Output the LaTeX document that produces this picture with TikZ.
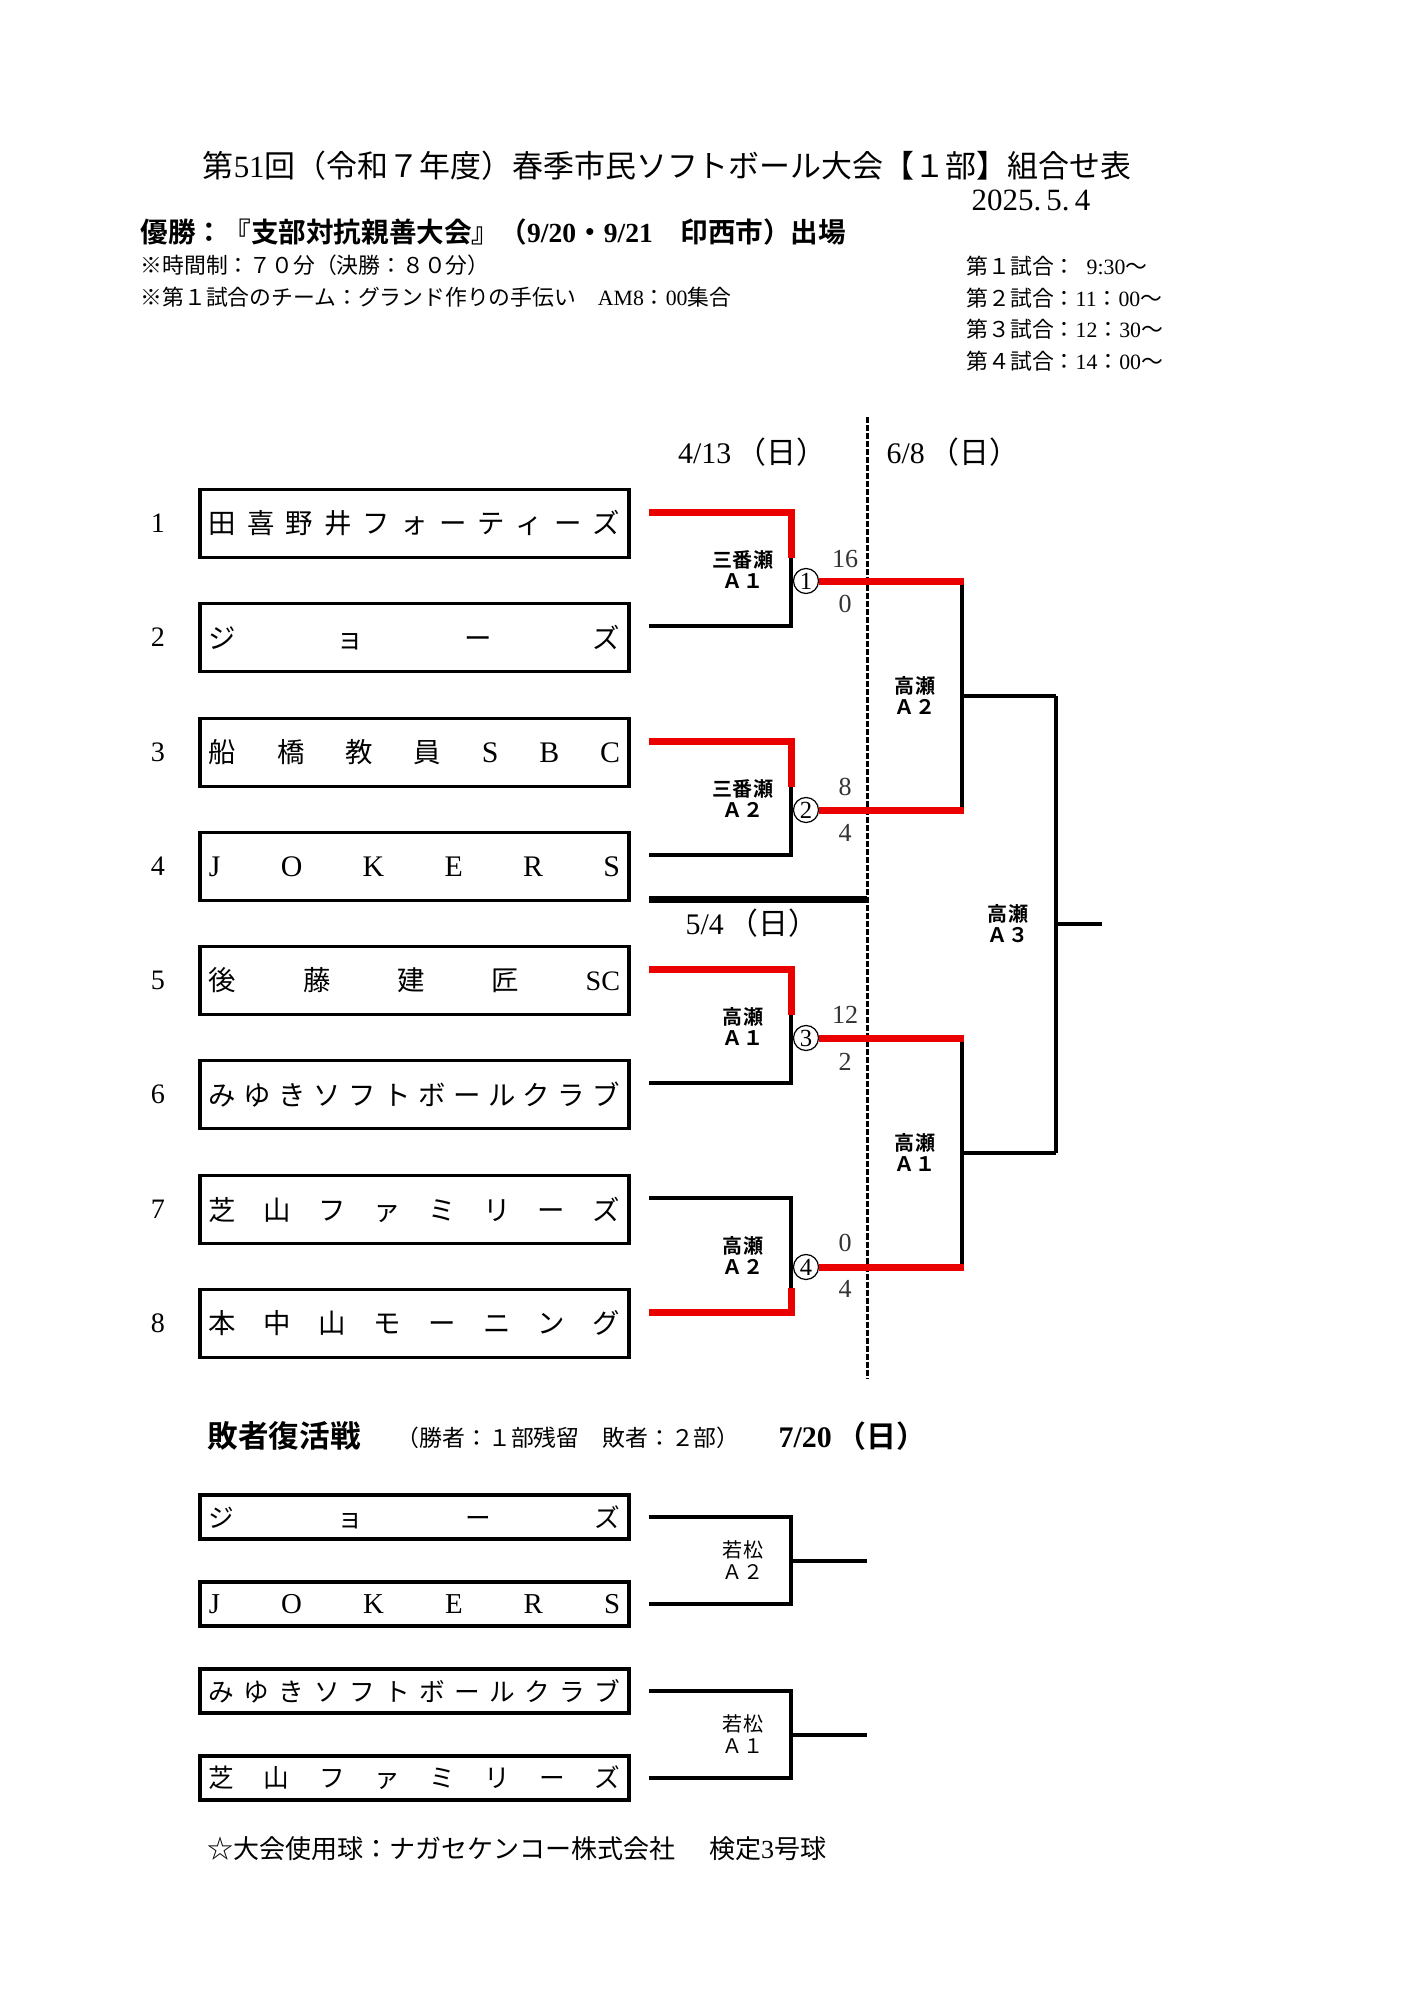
\documentclass[tikz,border=0pt]{standalone}
\usepackage{fontspec}
\setmainfont{Liberation Serif}
\newfontfamily\jp{Noto Sans CJK JP}[BoldFont={Noto Sans CJK JP Bold}]
\newcommand\fsz[2]{\fontsize{#1}{#2}\selectfont}
\definecolor{wred}{RGB}{235,0,0}
\tikzset{
  every node/.style={inner sep=0pt},
  teambox/.style={draw,line width=0.035cm,minimum width=4.29cm,minimum height=0.68cm},
  losebox/.style={teambox,minimum height=0.44cm},
  bk/.style={line width=0.04cm,line join=miter},
  rd/.style={line width=0.07cm,draw=wred,line join=miter},
  tnum/.style={font=\fsz{8pt}{9pt}},
  score/.style={font=\fsz{7.4pt}{8pt},text=black!80},
  mlabel/.style={font=\jp\bfseries\fsz{5.7pt}{6pt},align=center},
  llabel/.style={font=\jp\fsz{5.7pt}{6.2pt},align=center},
  circ/.style={circle,draw,line width=0.35pt,minimum size=0.25cm,font=\fsz{7pt}{7pt}},
  tname/.style={font=\jp\fsz{7.8pt}{9pt}},
  lname/.style={font=\jp\fsz{7.3pt}{9pt}},
  dtext/.style={font=\fsz{8.5pt}{9pt}},
}
\newcommand\spreadname[1]{\makebox[4.11cm][s]{#1}}
\begin{document}
\begin{tikzpicture}[x=0.01cm,y=-0.01cm]
\fill[white] (0,0) rectangle (1414,2000);
\useasboundingbox (0,0) rectangle (1414,2000);

% ---------- header ----------
\node (title) at (667,166) {\jp\fsz{8.8pt}{10pt}第{\rmfamily 51}回（令和７年度）春季市民ソフトボール大会【１部】組合せ表};
\node[anchor=west] (date) at (971,200) {\fsz{8.8pt}{10pt}2025.\,5.\,4};
\node[anchor=west] (win) at (140,232) {\jp\bfseries\fsz{7.85pt}{9pt}優勝：『支部対抗親善大会』（{\rmfamily 9/20}・{\rmfamily 9/21}　印西市）出場};
\node[anchor=west] (note1) at (140,265) {\jp\fsz{6.2pt}{7pt}※時間制：７０分（決勝：８０分）};
\node[anchor=west] (note2) at (140,297) {\jp\fsz{6.2pt}{7pt}※第１試合のチーム：グランド作りの手伝い　{\rmfamily AM8}：{\rmfamily 00}集合};
\node[anchor=west] (time1) at (966,266) {\jp\fsz{6.2pt}{7pt}第１試合：{\rmfamily\ \ 9:30}～};
\node[anchor=west] (time2) at (966,298) {\jp\fsz{6.2pt}{7pt}第２試合：{\rmfamily 11}：{\rmfamily 00}～};
\node[anchor=west] (time3) at (966,329) {\jp\fsz{6.2pt}{7pt}第３試合：{\rmfamily 12}：{\rmfamily 30}～};
\node[anchor=west] (time4) at (966,361) {\jp\fsz{6.2pt}{7pt}第４試合：{\rmfamily 14}：{\rmfamily 00}～};

\node[dtext] (d1) at (752,452) {4/13\,{\jp（日）}};
\node[dtext] (d2) at (953,452) {6/8\,{\jp（日）}};
\node[dtext] (d3) at (752,923) {5/4\,{\jp（日）}};

% ---------- team boxes ----------
\node[tnum] (n1) at (158,523.5) {1};
\node[tnum] (n2) at (158,637.5) {2};
\node[tnum] (n3) at (158,752.5) {3};
\node[tnum] (n4) at (158,866.5) {4};
\node[tnum] (n5) at (158,980.5) {5};
\node[tnum] (n6) at (158,1094.5) {6};
\node[tnum] (n7) at (158,1209.5) {7};
\node[tnum] (n8) at (158,1323.5) {8};

\node[teambox,tname] (b1) at (414.5,523.5) {\spreadname{田 喜 野 井 フ ォ ー テ ィ ー ズ}};
\node[teambox,tname] (b2) at (414.5,637.5) {\spreadname{ジ ョ ー ズ}};
\node[teambox,tname] (b3) at (414.5,752.5) {\spreadname{船 橋 教 員 {\rmfamily\fsz{8.5pt}{9pt}S} {\rmfamily\fsz{8.5pt}{9pt}B} {\rmfamily\fsz{8.5pt}{9pt}C}}};
\node[teambox,tname] (b4) at (414.5,866.5) {\rmfamily\fsz{8.5pt}{9pt}\spreadname{J O K E R S}};
\node[teambox,tname] (b5) at (414.5,980.5) {\spreadname{後 藤 建 匠 {\rmfamily\fsz{8pt}{9pt}SC}}};
\node[teambox,tname] (b6) at (414.5,1094.5) {\spreadname{み ゆ き ソ フ ト ボ ー ル ク ラ ブ}};
\node[teambox,tname] (b7) at (414.5,1209.5) {\spreadname{芝 山 フ ァ ミ リ ー ズ}};
\node[teambox,tname] (b8) at (414.5,1323.5) {\spreadname{本 中 山 モ ー ニ ン グ}};

% ---------- bracket coordinates ----------
\coordinate (a1) at (649,512);  \coordinate (j1) at (791,512);
\coordinate (r1) at (791,558);
\coordinate (j2) at (791,626);  \coordinate (a2) at (649,626);
\coordinate (a3) at (649,741);  \coordinate (j3) at (791,741);
\coordinate (r2) at (791,787);
\coordinate (j4) at (791,855);  \coordinate (a4) at (649,855);
\coordinate (a5) at (649,969);  \coordinate (j5) at (791,969);
\coordinate (r3) at (791,1015);
\coordinate (j6) at (791,1083); \coordinate (a6) at (649,1083);
\coordinate (a7) at (649,1198); \coordinate (j7) at (791,1198);
\coordinate (r4) at (791,1288);
\coordinate (j8) at (791,1312); \coordinate (a8) at (649,1312);

\node[circ] (c1) at (806,581) {1};
\node[circ] (c2) at (806,810) {2};
\node[circ] (c3) at (806,1038) {3};
\node[circ] (c4) at (806,1267) {4};

\coordinate (s1) at (962,581);  \coordinate (s1r) at (964,581);
\coordinate (s2) at (962,810);  \coordinate (s2r) at (964,810);
\coordinate (s3) at (962,1038); \coordinate (s3r) at (964,1038);
\coordinate (s4) at (962,1267); \coordinate (s4r) at (964,1267);
\coordinate (q1) at (962,695.5);  \coordinate (q1e) at (1056,695.5);
\coordinate (q2) at (962,1152.5); \coordinate (q2e) at (1056,1152.5);
\coordinate (f) at (1056,924);    \coordinate (fe) at (1102,924);

% dashed date divider and separator
\coordinate (dtop) at (867,417); \coordinate (dbot) at (867,1378);
\draw[line width=0.03cm,dash pattern=on 0.06cm off 0.02cm] (dtop) -- (dbot);
\coordinate (sepl) at (649,899); \coordinate (sepr) at (867,899);
\draw[line width=0.07cm] (sepl) -- (sepr);

% black lines
\draw[bk] (r1) -- (j2) -- (a2);
\draw[bk] (r2) -- (j4) -- (a4);
\draw[bk] (r3) -- (j6) -- (a6);
\draw[bk] (a7) -- (j7) -- (r4);
\draw[bk] (s1) -- (s2);
\draw[bk] (s3) -- (s4);
\draw[bk] (q1) -- (q1e);
\draw[bk] (q2) -- (q2e);
\draw[bk] (q1e) -- (q2e);
\draw[bk] (f) -- (fe);

% red (winner) lines
\draw[rd] (a1) -- (j1) -- (r1);
\draw[rd] (a3) -- (j3) -- (r2);
\draw[rd] (a5) -- (j5) -- (r3);
\draw[rd] (r4) -- (j8) -- (a8);
\draw[rd] (c1.east) -- (s1r);
\draw[rd] (c2.east) -- (s2r);
\draw[rd] (c3.east) -- (s3r);
\draw[rd] (c4.east) -- (s4r);

% venue labels
\node[mlabel] (l1) at (743,569.5) {三番瀬\\Ａ１};
\node[mlabel] (l2) at (743,798.5) {三番瀬\\Ａ２};
\node[mlabel] (l3) at (743,1026.5) {高瀬\\Ａ１};
\node[mlabel] (l4) at (743,1255.5) {高瀬\\Ａ２};
\node[mlabel] (l5) at (915,695.5) {高瀬\\Ａ２};
\node[mlabel] (l6) at (915,1152.5) {高瀬\\Ａ１};
\node[mlabel] (l7) at (1008,923.5) {高瀬\\Ａ３};

% scores
\node[score] (p1a) at (845,559) {16};
\node[score] (p1b) at (845,604) {0};
\node[score] (p2a) at (845,787) {8};
\node[score] (p2b) at (845,833) {4};
\node[score] (p3a) at (845,1015) {12};
\node[score] (p3b) at (845,1062) {2};
\node[score] (p4a) at (845,1243) {0};
\node[score] (p4b) at (845,1289) {4};

% ---------- losers' bracket ----------
\node[anchor=west] (lhead) at (207,1436) {\jp\bfseries\fsz{8.7pt}{10pt}敗者復活戦};
\node[anchor=west] (lnote) at (396,1438) {\jp\fsz{6.5pt}{7pt}（勝者：１部残留　敗者：２部）};
\node[anchor=west] (ldate) at (778,1436) {\bfseries\fsz{8.5pt}{9pt}7/20\,{\jp（日）}};

\node[losebox,lname] (lb1) at (414.5,1517) {\spreadname{ジ ョ ー ズ}};
\node[losebox,lname] (lb2) at (414.5,1604) {\rmfamily\fsz{8.2pt}{9pt}\spreadname{J O K E R S}};
\node[losebox,lname] (lb3) at (414.5,1691) {\spreadname{み ゆ き ソ フ ト ボ ー ル ク ラ ブ}};
\node[losebox,lname] (lb4) at (414.5,1778) {\spreadname{芝 山 フ ァ ミ リ ー ズ}};

\coordinate (la1) at (649,1517); \coordinate (lj1) at (791,1517);
\coordinate (lj2) at (791,1604); \coordinate (la2) at (649,1604);
\coordinate (lm1) at (791,1560.5); \coordinate (lo1) at (867,1560.5);
\coordinate (la3) at (649,1691); \coordinate (lj3) at (791,1691);
\coordinate (lj4) at (791,1778); \coordinate (la4) at (649,1778);
\coordinate (lm2) at (791,1734.5); \coordinate (lo2) at (867,1734.5);
\draw[bk] (la1) -- (lj1) -- (lj2) -- (la2);
\draw[bk] (lm1) -- (lo1);
\draw[bk] (la3) -- (lj3) -- (lj4) -- (la4);
\draw[bk] (lm2) -- (lo2);
\node[llabel] (ll1) at (743,1560) {若松\\Ａ２};
\node[llabel] (ll2) at (743,1734) {若松\\Ａ１};

\node[anchor=west] (foot) at (207,1849) {\jp\fsz{7.4pt}{8pt}☆大会使用球：ナガセケンコー株式会社\hspace{1.3em}検定{\rmfamily 3}号球};
\end{tikzpicture}
\end{document}
